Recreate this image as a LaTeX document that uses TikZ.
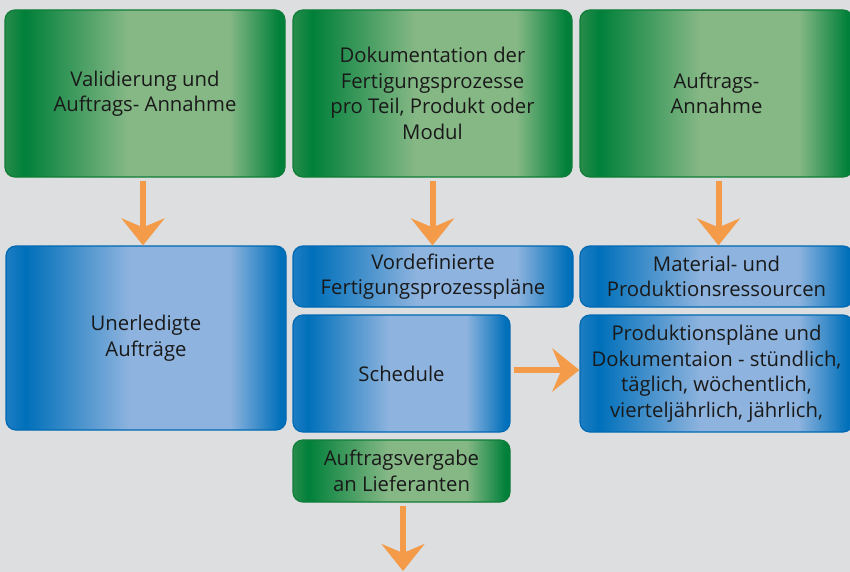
\documentclass[tikz,border=0pt]{standalone}
\usepackage{fontspec}
\setmainfont{Open Sans}
\usetikzlibrary{arrows.meta}

\definecolor{bg}{RGB}{221,222,224}
\definecolor{gedge}{RGB}{40,140,75}
\definecolor{gdark}{RGB}{0,128,58}
\definecolor{glight}{RGB}{134,184,134}
\definecolor{gline}{RGB}{15,125,55}
\definecolor{bedge}{RGB}{30,125,195}
\definecolor{bdark}{RGB}{0,112,186}
\definecolor{blight}{RGB}{141,179,222}
\definecolor{bline}{RGB}{0,105,178}
\definecolor{arrowor}{RGB}{243,155,72}
\definecolor{ink}{RGB}{25,25,25}

% horizontal bars: dark at the sides, light plateau right of centre
\pgfdeclarehorizontalshading{greenbar}{100bp}{color(0bp)=(gedge); color(25bp)=(gedge); color(28.5bp)=(gdark); color(47bp)=(glight); color(65bp)=(glight); color(74bp)=(gdark); color(100bp)=(gdark)}
\pgfdeclarehorizontalshading{bluebar}{100bp}{color(0bp)=(bedge); color(25bp)=(bedge); color(28.5bp)=(bdark); color(47bp)=(blight); color(65bp)=(blight); color(74bp)=(bdark); color(100bp)=(bdark)}

\tikzset{
  box/.style={rounded corners=10pt, line width=1.2pt, inner sep=0pt,
    align=center, text=ink, font=\fontsize{20.3}{25.5}\selectfont, shade},
  greenbox/.style={box, draw=gline, shading=greenbar},
  bluebox/.style={box, draw=bline, shading=bluebar},
  flow/.style={draw=arrowor, line width=6pt, shorten <=3pt,
    -{Stealth[length=27pt, width=43pt, inset=9pt]}},
}

\begin{document}
\begin{tikzpicture}[x=1pt, y=-1pt]
  \useasboundingbox[fill=bg] (0,0) rectangle (850,572);

  % top row
  \node[greenbox, minimum width=280pt, minimum height=167pt] (g1) at (145,93.5)
    {Validierung und\\Auftrags- Annahme};
  \node[greenbox, minimum width=279pt, minimum height=167pt] (g2) at (432.5,93.5)
    {Dokumentation der\\Fertigungsprozesse\\pro Teil, Produkt oder\\Modul};
  \node[greenbox, minimum width=273pt, minimum height=167pt] (g3) at (716.5,93.5)
    {Auftrags-\\Annahme};

  % middle rows
  \node[bluebox, minimum width=280pt, minimum height=184pt] (b1) at (146,338)
    {Unerledigte\\Aufträge};
  \node[bluebox, minimum width=280pt, minimum height=61pt] (b2) at (433,276.5)
    {Vordefinierte\\Fertigungsprozesspläne};
  \node[bluebox, minimum width=217pt, minimum height=117pt] (b3) at (401.5,373.5)
    {Schedule};
  \node[bluebox, minimum width=273pt, minimum height=61pt] (b4) at (716.5,276.5)
    {Material- und\\Produktionsressourcen};
  \node[bluebox, minimum width=273pt, minimum height=117pt] (b5) at (716.5,373.5)
    {Produktionspläne und\\Dokumentaion - stündlich,\\täglich, wöchentlich,\\vierteljährlich, jährlich,};

  % bottom
  \node[greenbox, minimum width=217pt, minimum height=62pt] (g4) at (401.5,471)
    {Auftragsvergabe\\an Lieferanten};
  \coordinate (out) at (403,571);

  % connectors
  \draw[flow] ([xshift=-2pt]g1.south) -- ([xshift=-3pt]b1.north);
  \draw[flow] (g2.south) -- (g2.south |- b2.north);
  \draw[flow] ([xshift=2pt]g3.south) -- ([xshift=2pt]b4.north);
  \draw[flow] ([yshift=3.5pt]b3.east) -- ([yshift=3.5pt]b5.west);
  \draw[flow] ([xshift=1.5pt]g4.south) -- (out);
\end{tikzpicture}
\end{document}
